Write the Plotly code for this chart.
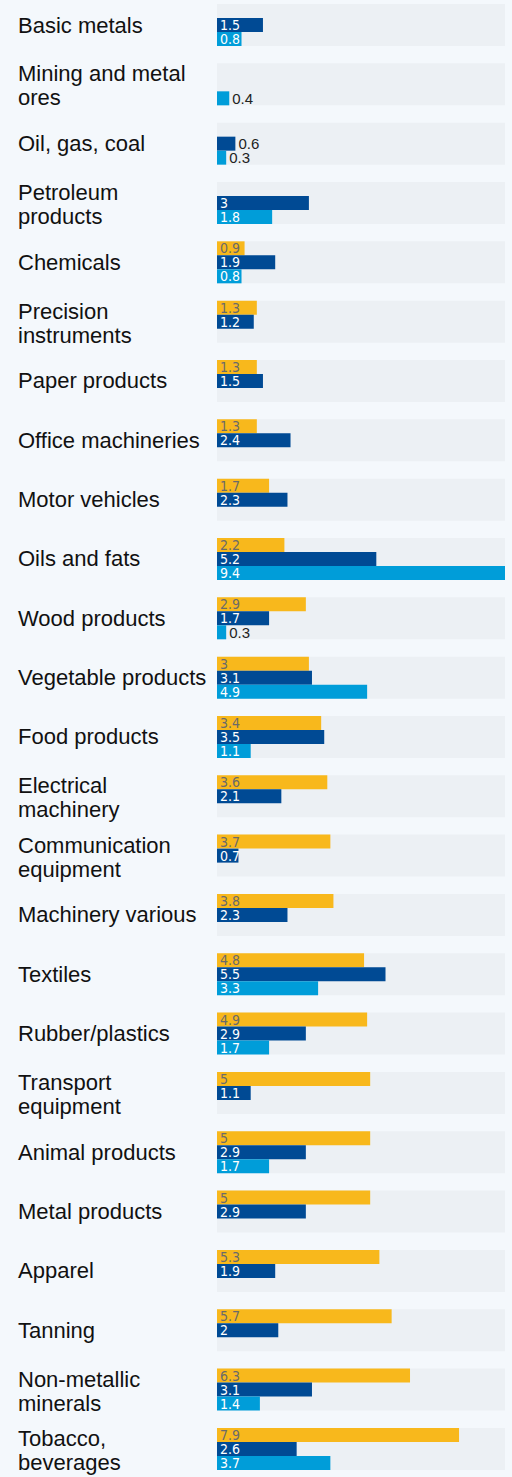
import plotly.graph_objects as go

categories = [
    "Basic metals", "Mining and metal<br>ores", "Oil, gas, coal", "Petroleum<br>products",
    "Chemicals", "Precision<br>instruments", "Paper products", "Office machineries",
    "Motor vehicles", "Oils and fats", "Wood products", "Vegetable products",
    "Food products", "Electrical<br>machinery", "Communication<br>equipment",
    "Machinery various", "Textiles", "Rubber/plastics", "Transport<br>equipment",
    "Animal products", "Metal products", "Apparel", "Tanning",
    "Non-metallic<br>minerals", "Tobacco,<br>beverages",
]
series_yellow = [None, None, None, None, 0.9, 1.3, 1.3, 1.3, 1.7, 2.2, 2.9, 3, 3.4, 3.6, 3.7,
                 3.8, 4.8, 4.9, 5, 5, 5, 5.3, 5.7, 6.3, 7.9]
series_dark = [1.5, None, 0.6, 3, 1.9, 1.2, 1.5, 2.4, 2.3, 5.2, 1.7, 3.1, 3.5, 2.1, 0.7,
               2.3, 5.5, 2.9, 1.1, 2.9, 2.9, 1.9, 2, 3.1, 2.6]
series_light = [0.8, 0.4, 0.3, 1.8, 0.8, None, None, None, None, 9.4, 0.3, 4.9, 1.1, None, None,
                None, 3.3, 1.7, None, 1.7, None, None, None, 1.4, 3.7]

W, H = 512, 1477
ML, MR = 217, 7
XMAX = 9.4
PITCH = 59.33
FIRST_CENTER = 25

ids = list(range(len(categories)))
y_top = -FIRST_CENTER / PITCH
y_bot = y_top + H / PITCH

fig = go.Figure()
specs = [
    (series_yellow, "#F8B81C", "#6a6a6a"),
    (series_dark, "#004A94", "#ffffff"),
    (series_light, "#009DD9", "#ffffff"),
]
for vals, col, tcol in specs:
    txt = [("" if v is None else f"{v:g}") for v in vals]
    pos = [("outside" if (v is not None and v <= 0.6) else "inside") for v in vals]
    fig.add_trace(go.Bar(
        y=ids, x=vals, orientation="h", marker=dict(color=col, line=dict(width=0)),
        text=txt, textposition=pos, insidetextanchor="start", constraintext="none",
        textangle=0, cliponaxis=False,
        insidetextfont=dict(family="DejaVu Sans Condensed, Liberation Sans Narrow, sans-serif",
                            size=14, color=tcol),
        outsidetextfont=dict(family="Liberation Sans, Arial, sans-serif", size=15, color="#222222"),
        hoverinfo="skip", showlegend=False,
    ))

half = (1 - 0.292) / 2
shapes = []
for i in ids:
    shapes.append(dict(type="rect", xref="x", yref="y", x0=0, x1=XMAX, y0=i - half, y1=i + half,
                       fillcolor="#ECF0F4", line=dict(width=0), layer="below"))

annotations = []
label_font = dict(family="Liberation Sans, Arial, sans-serif", size=22, color="#111111")
lx = (16 - ML) / (W - ML - MR)
for i, lab in zip(ids, categories):
    lines = lab.split("<br>")
    n = len(lines)
    for k, line in enumerate(lines):
        shift = (n - 1) / 2 * 24 - k * 24 - (1.5 if n > 1 else 0)
        annotations.append(dict(text=line, xref="paper", yref="y", x=lx, y=i, xanchor="left",
                                yanchor="middle", showarrow=False, yshift=shift, font=label_font))

fig.update_layout(
    width=W, height=H, margin=dict(l=ML, r=MR, t=0, b=0),
    paper_bgcolor="#F4F8FC", plot_bgcolor="rgba(0,0,0,0)",
    barmode="group", bargap=0.292, bargroupgap=0,
    xaxis=dict(range=[0, XMAX], visible=False, fixedrange=True),
    yaxis=dict(range=[y_bot, y_top], visible=False, type="linear", fixedrange=True),
    shapes=shapes, annotations=annotations,
)
fig.write_html("out.html")
